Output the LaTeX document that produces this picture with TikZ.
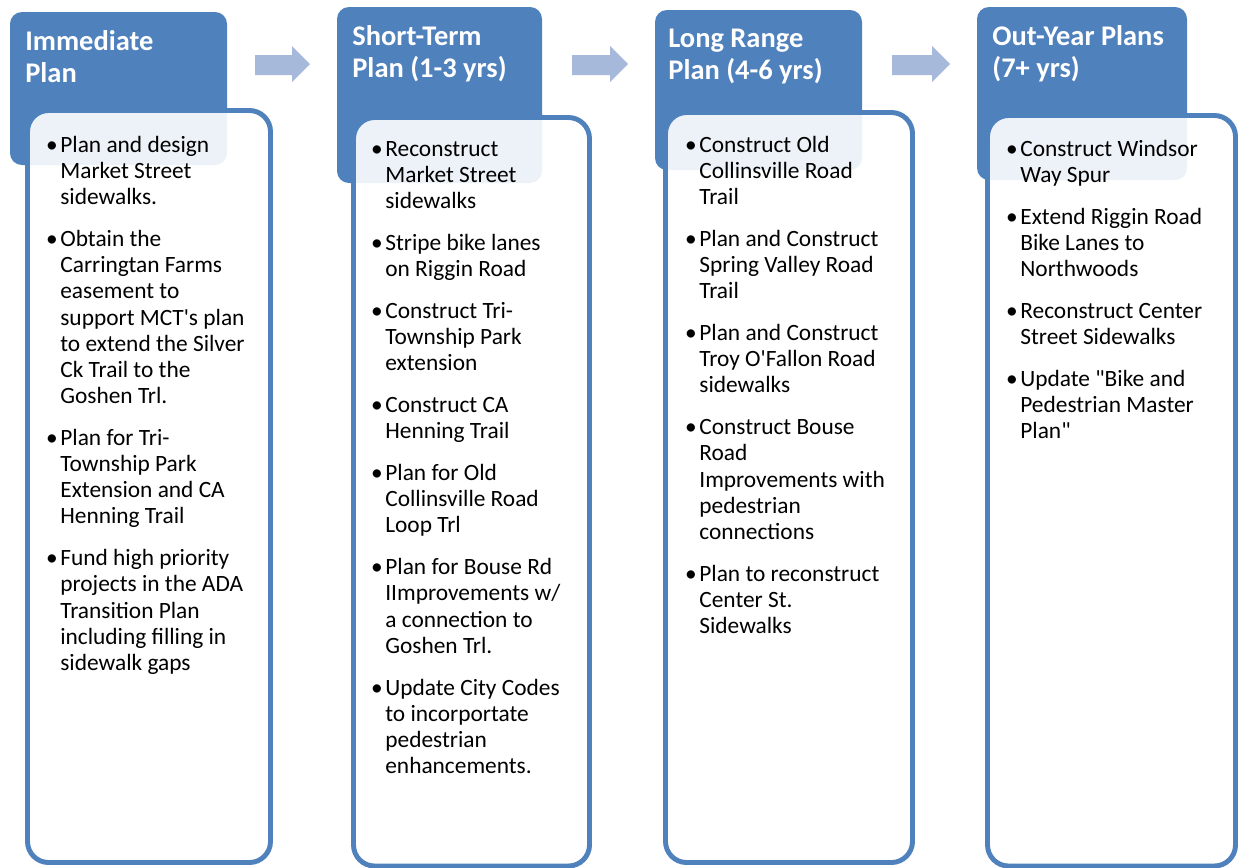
\documentclass[tikz,border=0pt]{standalone}
\usepackage{fontspec}
\setmainfont{Carlito}[Ligatures=TeXOff]
\definecolor{planblue}{HTML}{4F81BD}
\definecolor{arrowblue}{HTML}{A7B9DB}
% bullet hangs left of the text column
\newcommand{\bl}{\llap{\textbullet\hspace{1.5pt}}}
\newcommand{\nxt}{\\[8.9pt]\bl}

\begin{document}
\begin{tikzpicture}[x=0.02cm, y=-0.02cm,
    head/.style={fill=planblue, rounded corners=6.8pt},
    body/.style={draw=planblue, line width=2.8pt, fill=white, fill opacity=0.9, rounded corners=12pt},
    headtext/.style={text=white, font=\bfseries\fontsize{16.2}{18.1}\selectfont, align=left, inner sep=0pt, anchor=north west},
    itemtext/.style={font=\fontsize{13.3}{14.9}\selectfont, align=left, inner sep=0pt, anchor=north west},
    arrowfill/.style={fill=arrowblue}]
     \useasboundingbox (0,0) rectangle (1239,867);

     % header tabs
     \fill[head] (10,12) rectangle (227,165);
     \fill[head] (337,7) rectangle (542,183);
     \fill[head] (655,10) rectangle (862,170);
     \fill[head] (977,7) rectangle (1187,180);

     % list boxes
     \draw[body] (27.5,110.5) rectangle (270.5,862.5);
     \draw[body] (353.5,117.5) rectangle (589.5,866);
     \draw[body] (665.5,112.5) rectangle (912.5,862.5);
     \draw[body] (987.5,115.5) rectangle (1235.5,866);

     % block arrows
     \foreach \xa/\xb in {255/310, 572/628, 892/950}
       \fill[arrowfill] (\xa,55) -- (\xb-18,55) -- (\xb-18,46) -- (\xb,64)
         -- (\xb-18,82) -- (\xb-18,75) -- (\xa,75) -- cycle;

     % first baseline minus strut height (22.4 / 18.4 px)
     \node[headtext] (hd1) at (25,27.6) {\strut Immediate\\Plan};
     \node[headtext] (hd2) at (352,22.6) {\strut Short-Term\\Plan (1-3 yrs)};
     \node[headtext] (hd3) at (668,24.6) {\strut Long Range\\Plan (4-6 yrs)};
     \node[headtext] (hd4) at (992,22.6) {\strut Out-Year Plans\\(7+ yrs)};

     \node[itemtext] (it1) at (60,133.6) {\strut\bl Plan and design\\Market Street\\sidewalks.%
       \nxt Obtain the\\Carringtan Farms\\easement to\\support MCT's plan\\to extend the Silver\\Ck Trail to the\\Goshen Trl.%
       \nxt Plan for Tri-\\Township Park\\Extension and CA\\Henning Trail%
       \nxt Fund high priority\\projects in the ADA\\Transition Plan\\including filling in\\sidewalk gaps};
     \node[itemtext] (it2) at (385,137.6) {\strut\bl Reconstruct\\Market Street\\sidewalks%
       \nxt Stripe bike lanes\\on Riggin Road%
       \nxt Construct Tri-\\Township Park\\extension%
       \nxt Construct CA\\Henning Trail%
       \nxt Plan for Old\\Collinsville Road\\Loop Trl%
       \nxt Plan for Bouse Rd\\IImprovements w/\\a connection to\\Goshen Trl.%
       \nxt Update City Codes\\to incorportate\\pedestrian\\enhancements.};
     \node[itemtext] (it3) at (699,133.6) {\strut\bl Construct Old\\Collinsville Road\\Trail%
       \nxt Plan and Construct\\Spring Valley Road\\Trail%
       \nxt Plan and Construct\\Troy O'Fallon Road\\sidewalks%
       \nxt Construct Bouse\\Road\\Improvements with\\pedestrian\\connections%
       \nxt Plan to reconstruct\\Center St.\\Sidewalks};
     \node[itemtext] (it4) at (1020,137.6) {\strut\bl Construct Windsor\\Way Spur%
       \nxt Extend Riggin Road\\Bike Lanes to\\Northwoods%
       \nxt Reconstruct Center\\Street Sidewalks%
       \nxt Update "Bike and\\Pedestrian Master\\Plan"};
\end{tikzpicture}
\end{document}
